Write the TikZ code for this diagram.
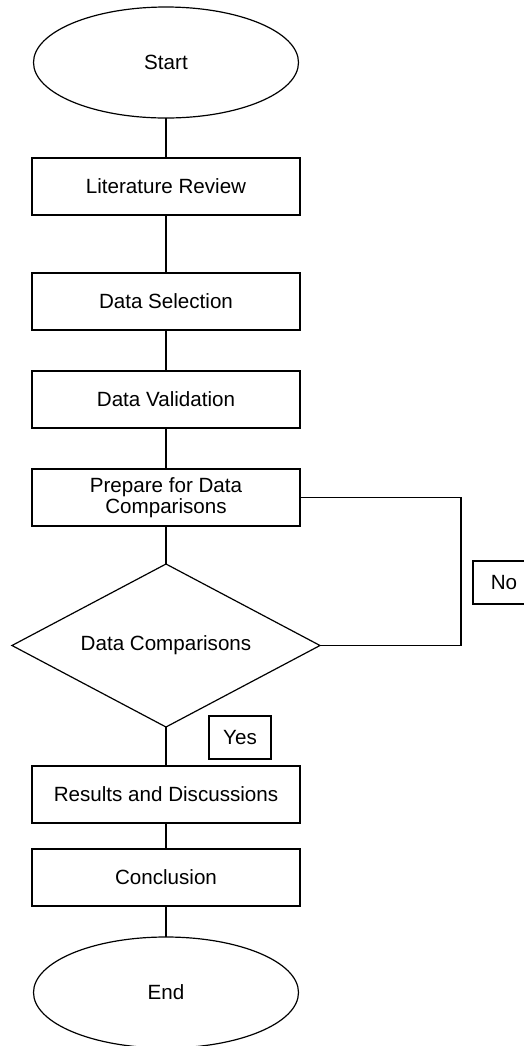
\documentclass[tikz,border=0pt]{standalone}
\usepackage{fontspec}
\setmainfont{Liberation Sans}
\usepackage{tikz}
\usetikzlibrary{positioning}
\usetikzlibrary{shapes.geometric}

\begin{document}
\begin{tikzpicture}[
    node distance = 20pt,
    line width = 0.6pt,
    outer sep = 0pt,
    font = \fontsize{10.3pt}{10.5pt}\selectfont,
    ]

    \tikzstyle{terminal}=[
    draw = black,
    ellipse,
    minimum width = 132.5pt,
    minimum height = 55.5pt,
    ]
    \tikzstyle{process}=[
    draw = black,
    rectangle,
    minimum width = 134pt,
    minimum height = 28.5pt,
    align = center,
    inner sep = 0pt,
    ]
    \tikzstyle{decision}=[
    draw = black,
    diamond,
    aspect = 1.89,
    minimum width = 154pt,
    minimum height = 81.5pt,
    inner sep = 0pt,
    ]
    \tikzstyle{answer}=[
    draw = black,
    minimum width = 31pt,
    minimum height = 21.5pt,
    inner sep = 0pt,
    ]

    \useasboundingbox (-83pt,31.25pt) rectangle (179pt,-491.75pt);

    \node[terminal] (start) {Start};
    \node[process] (litreview) [below=20pt of start] {Literature Review};
    \node[process] (dataselect) [below=29pt of litreview] {Data Selection};
    \node[process] (datavalid) [below=20.5pt of dataselect] {Data Validation};
    \node[process] (prepare) [below=20.5pt of datavalid] {Prepare for Data\\Comparisons};
    \node[decision] (compare) [below=19pt of prepare] {Data Comparisons};
    \node[process] (results) [below=19.5pt of compare] {Results and Discussions};
    \node[process] (concl) [below=13pt of results] {Conclusion};
    \node[terminal] (stop) [below=15.5pt of concl] {End};

    \draw (start) -- (litreview);
    \draw (litreview) -- (dataselect);
    \draw (dataselect) -- (datavalid);
    \draw (datavalid) -- (prepare);
    \draw (prepare) -- (compare);
    \draw (compare) -- node[answer, right=21.5pt, yshift=4.5pt] (yes) {Yes} (results);
    \draw (results) -- (concl);
    \draw (concl) -- (stop);

    % loop back when the comparison fails
    \draw (compare.east) -- ++(70.5pt,0) coordinate (turn) |- (prepare.east);
    \node[answer] (no) at ([xshift=21.5pt, yshift=31.5pt] turn) {No};
  \end{tikzpicture}
\end{document}
